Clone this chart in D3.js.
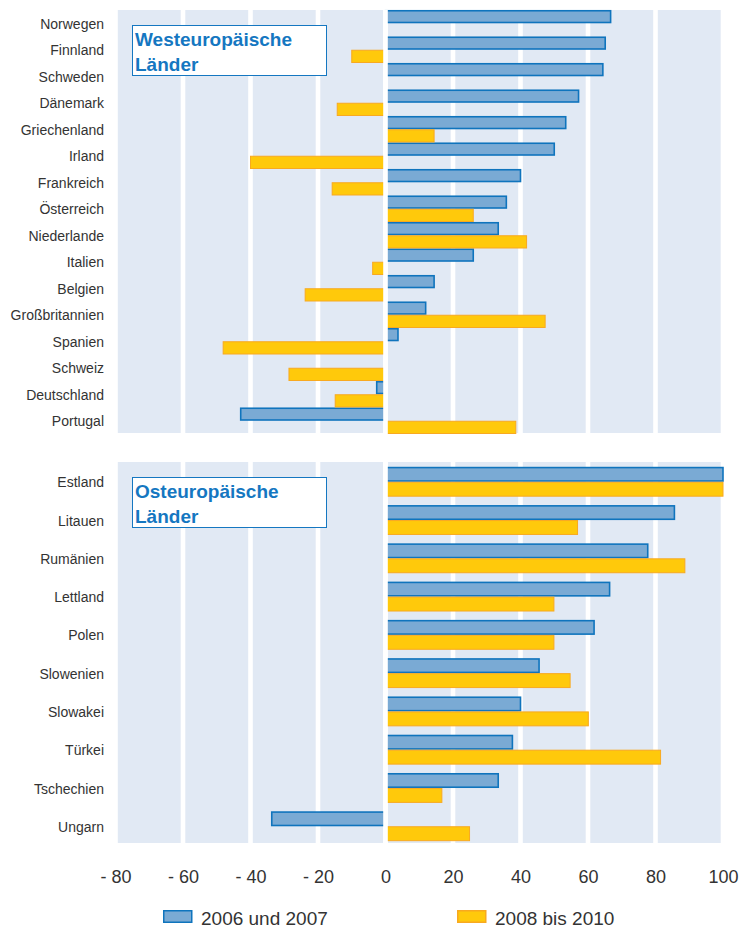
<!DOCTYPE html>
<html>
<head>
<meta charset="utf-8">
<script src="https://cdn.jsdelivr.net/npm/d3@7"></script>
<style>
body { margin: 0; background: #fff; }
svg { display: block; font-family: "Liberation Sans", Arial, sans-serif; }
</style>
</head>
<body>
<svg id="chart" width="743" height="930"></svg>
<script>
//west european countries, top panel
var westCountries = ["Norwegen", "Finnland", "Schweden", "Dänemark", "Griechenland", "Irland",
	"Frankreich", "Österreich", "Niederlande", "Italien", "Belgien", "Großbritannien",
	"Spanien", "Schweiz", "Deutschland", "Portugal"];
var west0607 = [66.7, 65.1, 64.4, 57.2, 53.4, 50.0, 40.0, 35.8, 33.4, 26.0, 14.4, 11.9, 3.7, 0, -2.6, -42.9];
var west0810 = [0, -10.0, 0, -14.3, 14.4, -40.0, -15.8, 26.0, 41.8, -3.8, -23.8, 47.3, -48.1, -28.6, -14.9, 38.6];

//east european countries, bottom panel
var eastCountries = ["Estland", "Litauen", "Rumänien", "Lettland", "Polen", "Slowenien",
	"Slowakei", "Türkei", "Tschechien", "Ungarn"];
var east0607 = [100, 85.6, 77.7, 66.4, 61.8, 45.5, 40.0, 37.6, 33.4, -33.7];
var east0810 = [100, 56.9, 88.7, 49.9, 49.9, 54.7, 60.1, 81.5, 16.7, 24.9];

var seriesNames = ["2006 und 2007", "2008 bis 2010"];
var xTicks = [-80, -60, -40, -20, 0, 20, 40, 60, 80, 100];

var blueFill = "#7aaad4", blueStroke = "#0f74bd";
var yellowFill = "#ffc90b", yellowStroke = "#f8a920";
var bandColor = "#e1e9f4";
var textColor = "#333";
var titleColor = "#1577c1";

var svg = d3.select("#chart");

var x = d3.scaleLinear()
	.domain([-80, 100])
	.range([115.5, 723]);

function makePanel(countries, v1, v2, top, bottom, bandRange, padIn, padOut, title) {
	var g = svg.append("g");

	//background columns, one per 20 units
	var cols = d3.range(-80, 100, 20);
	g.selectAll("rect.col")
	.data(cols)
	.enter()
	.append("rect")
	.attr("class", "col")
	.attr("x", function(d){ return x(d) + 2.3; })
	.attr("width", function(d){ return x(d + 20) - x(d) - 4.6; })
	.attr("y", top)
	.attr("height", bottom - top)
	.attr("fill", bandColor);

	var y = d3.scaleBand()
	.domain(countries)
	.range(bandRange)
	.paddingInner(padIn)
	.paddingOuter(padOut);

	var half = y.bandwidth() / 2;

	var rows = countries.map(function(c, i){
		return {country: c, a: v1[i], b: v2[i]};
	});

	//first series (blue), upper half of the band
	g.selectAll("rect.s1")
	.data(rows)
	.enter()
	.append("rect")
	.attr("class", "s1")
	.attr("x", function(d){ return x(Math.min(0, d.a)); })
	.attr("width", function(d){ return Math.abs(x(d.a) - x(0)); })
	.attr("y", function(d){ return y(d.country) + 0.75; })
	.attr("height", half - 1.5)
	.attr("fill", blueFill)
	.attr("stroke", blueStroke)
	.attr("stroke-width", 1.6);

	//second series (yellow), lower half
	g.selectAll("rect.s2")
	.data(rows)
	.enter()
	.append("rect")
	.attr("class", "s2")
	.attr("x", function(d){ return x(Math.min(0, d.b)); })
	.attr("width", function(d){ return Math.abs(x(d.b) - x(0)); })
	.attr("y", function(d){ return y(d.country) + half + 0.5; })
	.attr("height", half - 1)
	.attr("fill", yellowFill)
	.attr("stroke", yellowStroke)
	.attr("stroke-width", 1);

	//white line at zero sits over the bars
	g.append("rect")
	.attr("x", x(0) - 2.3)
	.attr("width", 4.6)
	.attr("y", top)
	.attr("height", bottom - top + 2)
	.attr("fill", "#fff");

	//country labels
	g.selectAll("text.lab")
	.data(countries)
	.enter()
	.append("text")
	.attr("class", "lab")
	.attr("x", 104)
	.attr("y", function(d){ return y(d) + y.bandwidth() / 2; })
	.attr("dy", "0.4em")
	.attr("text-anchor", "end")
	.attr("font-size", 14)
	.attr("fill", textColor)
	.text(function(d){ return d; });

	//title box
	g.append("rect")
	.attr("x", 132.5)
	.attr("y", top + 15.5)
	.attr("width", 194)
	.attr("height", 50)
	.attr("fill", "#fff")
	.attr("stroke", titleColor)
	.attr("stroke-width", 1);

	g.selectAll("text.title")
	.data(title)
	.enter()
	.append("text")
	.attr("class", "title")
	.attr("x", 135)
	.attr("y", function(d, i){ return top + 36 + i * 24.5; })
	.attr("font-size", 19)
	.attr("font-weight", "bold")
	.attr("fill", titleColor)
	.text(function(d){ return d; });
}

makePanel(westCountries, west0607, west0810, 10, 433, [10, 434], 0, 0, ["Westeuropäische", "Länder"]);
makePanel(eastCountries, east0607, east0810, 462, 843, [463, 845], 0.22, 0.1, ["Osteuropäische", "Länder"]);

//x axis, labels only
var xAxis = d3.axisBottom(x)
	.tickValues(xTicks)
	.tickSize(0)
	.tickPadding(0)
	.tickFormat(function(d){ return d < 0 ? "- " + Math.abs(d) : d; });

var axisG = svg.append("g")
	.attr("transform", "translate(0, 870)")
	.call(xAxis);
axisG.select(".domain").remove();
axisG.selectAll("text")
	.attr("font-size", 18)
	.attr("font-family", "Liberation Sans, Arial, sans-serif")
	.attr("fill", textColor);

//legend
var legendData = [
	{name: seriesNames[0], fill: blueFill, stroke: blueStroke, x: 163},
	{name: seriesNames[1], fill: yellowFill, stroke: yellowStroke, x: 457}
];
var legend = svg.selectAll("g.leg")
	.data(legendData)
	.enter()
	.append("g")
	.attr("class", "leg")
	.attr("transform", function(d){ return "translate(" + d.x + ", 910)"; });

legend.append("rect")
	.attr("x", 0.75)
	.attr("y", 0.75)
	.attr("width", 28)
	.attr("height", 11.5)
	.attr("fill", function(d){ return d.fill; })
	.attr("stroke", function(d){ return d.stroke; })
	.attr("stroke-width", 1.5);

legend.append("text")
	.attr("x", 38)
	.attr("y", 15)
	.attr("font-size", 19)
	.attr("fill", textColor)
	.text(function(d){ return d.name; });
</script>
</body>
</html>
